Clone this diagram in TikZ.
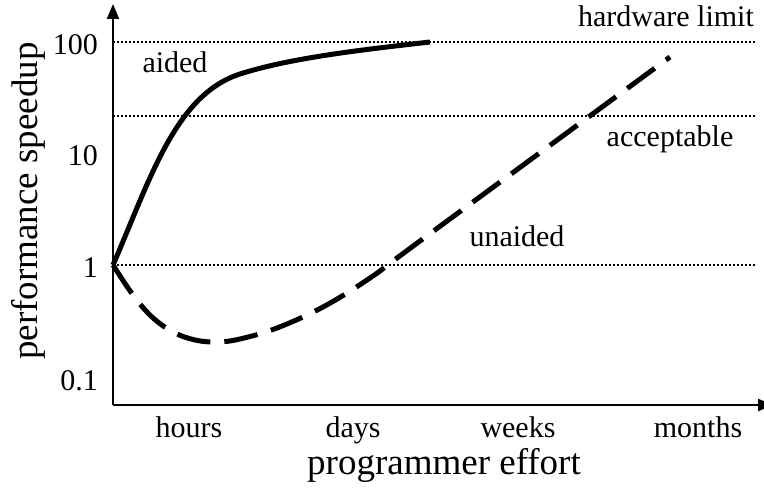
\documentclass[tikz,border=0pt]{standalone}
\usepackage{fontspec}
\setmainfont{Liberation Serif}
\usetikzlibrary{arrows.meta}
\begin{document}
\begin{tikzpicture}[x=1pt,y=-1pt,
  axis/.style={line width=2.4pt,-{Triangle[length=15pt,width=12pt]}},
  guide/.style={line width=1.6pt,dash pattern=on 1.6pt off 2.4pt},
  tick/.style={font=\fontsize{30}{36}\selectfont,inner sep=0pt},
  title/.style={font=\fontsize{37}{44}\selectfont,inner sep=0pt},
  curve/.style={line width=5pt},
  dashcurve/.style={line width=5pt,dash pattern=on 34pt off 14pt}]
\useasboundingbox (0,0) rectangle (764,489);
% guides
\coordinate (g1a) at (113,42);  \coordinate (g1b) at (755,42);
\coordinate (g2a) at (113,116); \coordinate (g2b) at (755,116);
\coordinate (g3a) at (113,265); \coordinate (g3b) at (755,265);
\draw[guide] (g1a) -- (g1b);
\draw[guide] (g2a) -- (g2b);
\draw[guide] (g3a) -- (g3b);
% axes
\coordinate (o) at (113,405);
\coordinate (ytip) at (113,4);
\coordinate (xtip) at (773,405);
\draw[axis] (o) -- (ytip);
\draw[axis] (o) -- (xtip);
% tick labels
\node[tick,anchor=base east] (t100) at (98,55) {100};
\node[tick,anchor=base east] (t10) at (98,166) {10};
\node[tick,anchor=base east] (t1) at (98,278) {1};
\node[tick,anchor=base east] (t01) at (98,391) {0.1};
\node[tick,anchor=base] (hours) at (189,438) {hours};
\node[tick,anchor=base] (days) at (353,438) {days};
\node[tick,anchor=base] (weeks) at (518,438) {weeks};
\node[tick,anchor=base] (months) at (698,438) {months};
% axis titles
\node[title,anchor=base] (xt) at (444,475) {programmer effort};
\node[title,anchor=base,rotate=90] (yt) at (37,201) {performance speedup};
% curve labels
\node[tick,anchor=base] (aided) at (175,73) {aided};
\node[tick,anchor=base] (unaided) at (517,247) {unaided};
\node[tick,anchor=base] (acc) at (670,147) {acceptable};
\node[tick,anchor=base] (hw) at (666,27) {hardware limit};
% curves
\draw[curve] (113,265) .. controls (150,180) and (175,95) .. (240,74)
             .. controls (290,58) and (360,50) .. (430,42);
\draw[dashcurve] plot[smooth,tension=0.6] coordinates {(113,265) (133,295) (152,317) (173,332) (195,340) (217,342) (240,339) (277,328) (323,307) (370,278) (420,241) (670,57)};
\end{tikzpicture}
\end{document}
